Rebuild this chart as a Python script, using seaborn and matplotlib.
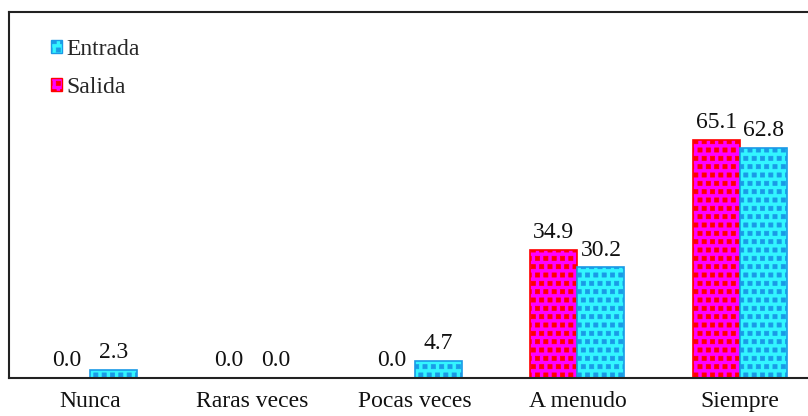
import matplotlib
matplotlib.use("Agg")
import matplotlib.pyplot as plt
import matplotlib.patches as mpatches
import matplotlib.hatch as mhatch
from matplotlib.path import Path
import numpy as np
import seaborn as sns
import pandas as pd

categories = ["Nunca", "Raras veces", "Pocas veces", "A menudo", "Siempre"]
salida = [0.0, 0.0, 0.0, 34.9, 65.1]
entrada = [2.3, 0.0, 4.7, 30.2, 62.8]
series = ["Salida", "Entrada"]

df = pd.DataFrame({
    "categoria": categories * 2,
    "valor": salida + entrada,
    "serie": ["Salida"] * len(categories) + ["Entrada"] * len(categories),
})


class SquareDots(mhatch.Shapes):
    """Staggered grid of small filled squares, used for the '.' hatch."""
    size = 0.5
    filled = True

    def __init__(self, hatch, density):
        self.num_rows = hatch.count(".") * density
        self.shape_vertices = np.array(
            [[-0.5, -0.5], [0.5, -0.5], [0.5, 0.5], [-0.5, 0.5], [-0.5, -0.5]])
        self.shape_codes = np.array(
            [Path.MOVETO, Path.LINETO, Path.LINETO, Path.LINETO, Path.CLOSEPOLY],
            dtype=Path.code_type)
        super().__init__(hatch, density)


mhatch._hatch_types = [SquareDots if t is mhatch.SmallFilledCircles else t
                       for t in mhatch._hatch_types]

sns.set_theme(style="white")
plt.rcParams["font.family"] = ["Liberation Serif", "DejaVu Serif"]
plt.rcParams["hatch.linewidth"] = 0.5

styles = {
    "Salida": dict(face="#ff00ff", edge="#ff0000"),
    "Entrada": dict(face="#33f5ff", edge="#1a9ae6"),
}

fig = plt.figure(figsize=(8.08, 4.16), dpi=100)
ax = fig.add_axes([9 / 808, 1 - 378 / 416, 812 / 808, 366 / 416])

sns.barplot(
    data=df, x="categoria", y="valor", hue="serie", hue_order=series,
    order=categories, palette={s: styles[s]["face"] for s in series},
    width=0.58, gap=0, ax=ax, legend=False, saturation=1,
)

for container, s in zip(ax.containers, series):
    for bar in container:
        bar.set_facecolor(styles[s]["face"])
        bar.set_edgecolor(styles[s]["edge"])
        bar.set_hatch("..")
        bar.set_linewidth(1.2)
    labels = [f"{v:.1f}" for v in container.datavalues]
    ax.bar_label(container, labels=labels, padding=5, fontsize=17, color="#111111")

ax.set_xlim(-0.5, 4.5)
ax.set_ylim(0, 100)
ax.set_xlabel("")
ax.set_ylabel("")
ax.set_yticks([])
ax.tick_params(axis="x", length=0, pad=9.5, labelsize=17, colors="#111111")
for side in ["top", "left", "bottom", "right"]:
    ax.spines[side].set_visible(True)
    ax.spines[side].set_color("#222222")
    ax.spines[side].set_linewidth(1.5)

handles = [
    mpatches.Patch(facecolor=styles[s]["face"], edgecolor=styles[s]["edge"],
                   hatch="..", linewidth=1.0, label=s)
    for s in ["Entrada", "Salida"]
]
ax.legend(handles=handles, loc="upper left", bbox_to_anchor=(0.0397, 0.953),
          frameon=False, fontsize=17, handlelength=0.5, handleheight=0.5,
          handletextpad=0.15, labelspacing=0.73, borderaxespad=0)

fig.savefig("out.png", dpi=100)
